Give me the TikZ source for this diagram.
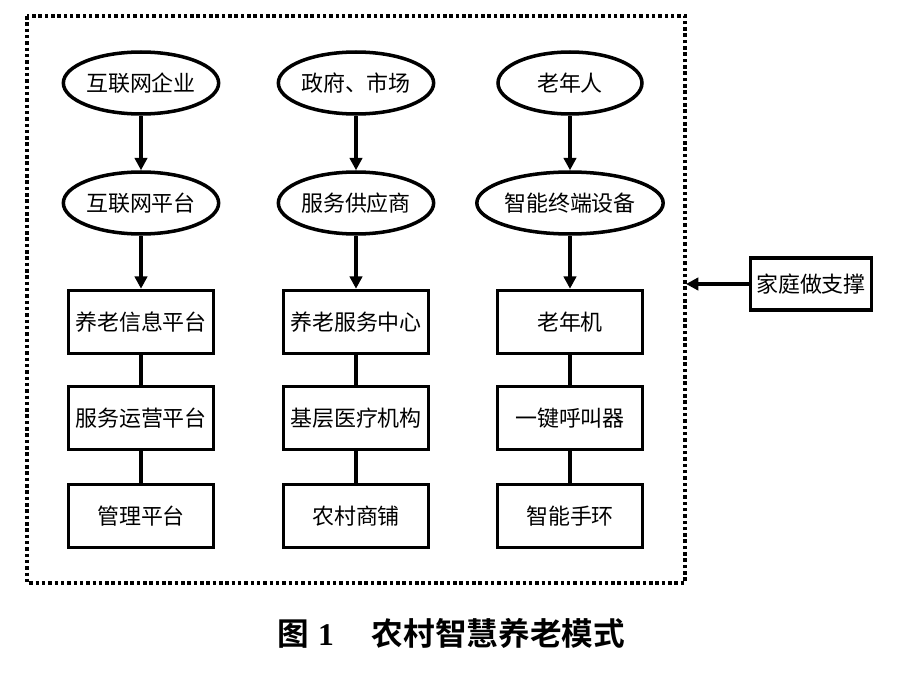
\documentclass[tikz,border=0pt]{standalone}
\usepackage{fontspec}
\setmainfont{Noto Sans CJK SC}
\newfontfamily\capfont{Noto Sans CJK SC Bold}
\newfontfamily\tnr{Liberation Serif}
\usetikzlibrary{shapes.geometric,arrows.meta}
\begin{document}
\begin{tikzpicture}[x=0.02cm,y=-0.02cm,
  every node/.style={font=\fontsize{12.5}{14}\selectfont},
  oval/.style={ellipse,draw,line width=2pt,minimum width=2.88cm,minimum height=1.24cm,inner sep=0pt},
  box/.style={rectangle,draw,line width=2pt,minimum width=2.9cm,minimum height=1.26cm,inner sep=0pt},
  arr/.style={line width=2pt,-{Triangle[length=7pt,width=7pt]}},
  ln/.style={line width=2pt}]
\useasboundingbox (0,0) rectangle (900,679);
\draw[line width=2pt,dash pattern=on 2pt off 1.6pt] (27,16) rectangle (685,583);
% column 1
\node[oval] (a1) at (141,83) {互联网企业};
\node[oval] (a2) at (141,203) {互联网平台};
\node[box] (a3) at (141,322) {养老信息平台};
\node[box] (a4) at (141,418) {服务运营平台};
\node[box] (a5) at (141,516) {管理平台};
% column 2
\node[oval] (b1) at (356,83) {政府、市场};
\node[oval] (b2) at (356,203) {服务供应商};
\node[box] (b3) at (356,322) {养老服务中心};
\node[box] (b4) at (356,418) {基层医疗机构};
\node[box] (b5) at (356,516) {农村商铺};
% column 3
\node[oval] (c1) at (570,83) {老年人};
\node[oval] (c2) at (570,203) {智能终端设备};
\node[box] (c3) at (570,322) {老年机};
\node[box] (c4) at (570,418) {一键呼叫器};
\node[box] (c5) at (570,516) {智能手环};
\foreach \c in {a,b,c}{
  \draw[arr] (\c1) -- (\c2);
  \draw[arr] (\c2) -- (\c3);
  \draw[ln] (\c3) -- (\c4);
  \draw[ln] (\c4) -- (\c5);
}
\node[box,minimum width=2.42cm,minimum height=1.04cm] (f) at (811,284) {家庭做支撑};
\coordinate (fe) at (686,284);
\draw[arr] (f) -- (fe);
\node[font=\fontsize{18}{21}\selectfont\capfont] (cap) at (451,633) {图\hspace{0.3em}{\tnr\bfseries 1}\hspace{1.2em}农村智慧养老模式};
\end{tikzpicture}
\end{document}
